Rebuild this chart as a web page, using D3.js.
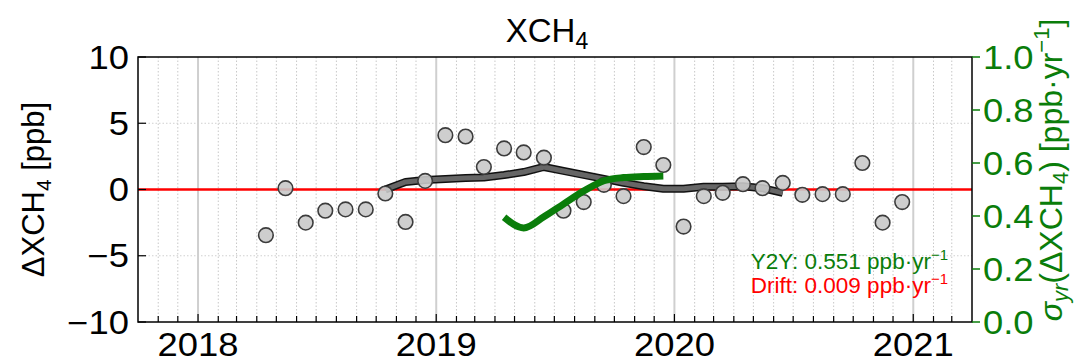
<!DOCTYPE html>
<html>
<head>
<meta charset="utf-8">
<script src="https://cdn.jsdelivr.net/npm/d3@7/dist/d3.min.js"></script>
<style>
  html, body { margin: 0; padding: 0; background: #fff; }
  svg { display: block; font-family: "Liberation Sans", Arial, Helvetica, sans-serif; }
</style>
</head>
<body>
<svg id="chart" width="1077" height="362"></svg>
<script>
// ---- data ----
const pointMonths = ["2018-04","2018-05","2018-06","2018-07","2018-08","2018-09","2018-10","2018-11","2018-12",
  "2019-01","2019-02","2019-03","2019-04","2019-05","2019-06","2019-07","2019-08","2019-09","2019-10","2019-11","2019-12",
  "2020-01","2020-02","2020-03","2020-04","2020-05","2020-06","2020-07","2020-08","2020-09","2020-10","2020-11","2020-12"];
const pointValues = [-3.45, 0.1, -2.5, -1.6, -1.5, -1.5, -0.3, -2.45, 0.65,
  4.1, 4.0, 1.7, 3.1, 2.8, 2.4, -1.6, -0.95, 0.35, -0.5, 3.2, 1.85,
  -2.8, -0.5, -0.25, 0.4, 0.1, 0.5, -0.4, -0.35, -0.35, 2.0, -2.5, -0.95];

const runMonths = ["2018-10","2018-11","2018-12","2019-01","2019-02","2019-03","2019-04","2019-05","2019-06","2019-07",
  "2019-08","2019-09","2019-10","2019-11","2019-12","2020-01","2020-02","2020-03","2020-04","2020-05","2020-06"];
const runValues = [0.0, 0.57, 0.72, 0.79, 0.86, 0.9, 1.09, 1.32, 1.7, 1.4,
  1.1, 0.8, 0.5, 0.25, 0.05, 0.05, 0.2, 0.2, 0.25, 0.1, -0.25];

const sigmaMonths = ["2019-04","2019-05","2019-06","2019-07","2019-08","2019-09","2019-10","2019-11","2019-12"];
const sigmaValues = [0.395, 0.355, 0.397, 0.445, 0.494, 0.533, 0.545, 0.549, 0.551];

const leftTicks = [-10, -5, 0, 5, 10];
const rightTicks = [0.0, 0.2, 0.4, 0.6, 0.8, 1.0];
const yearTicks = ["2018", "2019", "2020", "2021"];
const xDomain = ["2017-10-01", "2021-04-01"];
const y2yText = "0.551";
const driftText = "0.009";

// ---- layout ----
const W = 1077, H = 362;
const L = 138, R = 972, T = 57, B = 322;
const GREEN = "#0a7d0a";
const FS = 32.5;
const SX = 1.12; // horizontal stretch of tick label glyphs

const parseM = d3.timeParse("%Y-%m");
const mid = s => d3.timeDay.offset(parseM(s), 14);
const parseD = d3.timeParse("%Y-%m-%d");

const x = d3.scaleTime().domain(xDomain.map(parseD)).range([L, R]);
const y = d3.scaleLinear().domain([-10, 10]).range([B, T]);
const y2 = d3.scaleLinear().domain([0, 1]).range([B, T]);

const svg = d3.select("#chart");
svg.append("rect").attr("width", W).attr("height", H).attr("fill", "#fff");

const g = svg.append("g");
const months = d3.timeMonth.range(x.domain()[0], x.domain()[1]);
const years = yearTicks.map(s => d3.timeParse("%Y")(s));

// minor monthly dotted gridlines
g.append("g").selectAll("line").data(months.filter(d => d.getMonth() !== 0 && +d !== +x.domain()[0]))
  .join("line")
  .attr("x1", d => x(d)).attr("x2", d => x(d)).attr("y1", T).attr("y2", B)
  .attr("stroke", "#c8c8c8").attr("stroke-width", 1).attr("stroke-dasharray", "1.5,2");
// horizontal dotted gridlines
g.append("g").selectAll("line").data(leftTicks.filter(v => v !== 10 && v !== -10))
  .join("line")
  .attr("x1", L).attr("x2", R).attr("y1", d => y(d)).attr("y2", d => y(d))
  .attr("stroke", "#d0d0d0").attr("stroke-width", 1).attr("stroke-dasharray", "1.5,2");
// yearly solid gridlines
g.append("g").selectAll("line").data(years)
  .join("line")
  .attr("x1", d => x(d)).attr("x2", d => x(d)).attr("y1", T).attr("y2", B)
  .attr("stroke", "#cfcfcf").attr("stroke-width", 2);

// zero line
g.append("line").attr("x1", L).attr("x2", R).attr("y1", y(0)).attr("y2", y(0))
  .attr("stroke", "#ff0000").attr("stroke-width", 2.5);

// running line
const runData = runMonths.map((m, i) => ({ d: mid(m), v: runValues[i] }));
const runLine = d3.line().x(d => x(d.d)).y(d => y(d.v));
g.append("path").datum(runData).attr("d", runLine).attr("fill", "none")
  .attr("stroke", "#111").attr("stroke-width", 8).attr("stroke-linejoin", "round");
g.append("path").datum(runData).attr("d", runLine).attr("fill", "none")
  .attr("stroke", "#666").attr("stroke-width", 5).attr("stroke-linejoin", "round");

// points
const ptData = pointMonths.map((m, i) => ({ d: mid(m), v: pointValues[i] }));
g.append("g").selectAll("circle").data(ptData).join("circle")
  .attr("cx", d => x(d.d)).attr("cy", d => y(d.v)).attr("r", 7.3)
  .attr("fill", "#c9c9c9").attr("fill-opacity", 0.9)
  .attr("stroke", "#3c3c3c").attr("stroke-width", 1.6);

// sigma line
const sigData = sigmaMonths.map((m, i) => ({ d: mid(m), v: sigmaValues[i] }));
g.append("path").datum(sigData)
  .attr("d", d3.line().x(d => x(d.d)).y(d => y2(d.v)).curve(d3.curveMonotoneX))
  .attr("fill", "none").attr("stroke", GREEN).attr("stroke-width", 7).attr("stroke-linejoin", "round");

// frame
svg.append("rect").attr("x", L).attr("y", T).attr("width", R - L).attr("height", B - T)
  .attr("fill", "none").attr("stroke", "#000").attr("stroke-width", 1.5);

// x ticks (inward)
svg.append("g").selectAll("line").data(months.filter(d => +d !== +x.domain()[0]))
  .join("line")
  .attr("x1", d => x(d)).attr("x2", d => x(d)).attr("y1", B).attr("y2", d => B - (d.getMonth() === 0 ? 8 : 6))
  .attr("stroke", "#000").attr("stroke-width", 1.2);
svg.append("g").selectAll("text").data(years).join("text")
  .attr("transform", d => `translate(${x(d)},356) scale(${SX},1)`).attr("text-anchor", "middle")
  .attr("font-size", FS).attr("fill", "#000").text(d => d3.timeFormat("%Y")(d));

// left ticks
svg.append("g").selectAll("line").data(leftTicks).join("line")
  .attr("x1", L).attr("x2", L + 8).attr("y1", d => y(d)).attr("y2", d => y(d))
  .attr("stroke", "#000").attr("stroke-width", 1.2);
svg.append("g").selectAll("text").data(leftTicks).join("text")
  .attr("transform", d => `translate(129,${y(d) + 11.5}) scale(${SX},1)`).attr("text-anchor", "end")
  .attr("font-size", FS).attr("fill", "#000")
  .text(d => d < 0 ? "\u2212" + Math.abs(d) : String(d));

// right ticks
svg.append("g").selectAll("line").data(rightTicks).join("line")
  .attr("x1", R).attr("x2", R + 8).attr("y1", d => y2(d)).attr("y2", d => y2(d))
  .attr("stroke", GREEN).attr("stroke-width", 1.5);
svg.append("g").selectAll("text").data(rightTicks).join("text")
  .attr("transform", d => `translate(983,${y2(d) + 11.5}) scale(${SX},1)`).attr("text-anchor", "start")
  .attr("font-size", FS).attr("fill", GREEN).text(d => d.toFixed(1));

// title
const title = svg.append("text").attr("x", 547).attr("y", 42).attr("text-anchor", "middle")
  .attr("font-size", 33).attr("fill", "#000");
title.append("tspan").text("XCH");
title.append("tspan").attr("font-size", 23).attr("dy", 7).text("4");

// left label
const ll = svg.append("text").attr("transform", `translate(44,${(T + B) / 2}) rotate(-90)`)
  .attr("text-anchor", "middle").attr("font-size", 31).attr("fill", "#000");
ll.append("tspan").text("\u0394XCH");
ll.append("tspan").attr("font-size", 21).attr("dy", 7).text("4");
ll.append("tspan").attr("dy", -7).text(" [ppb]");

// right label
const rl = svg.append("text").attr("transform", `translate(1062,170) rotate(-90)`)
  .attr("text-anchor", "middle").attr("font-size", 32).attr("fill", GREEN);
rl.append("tspan").attr("font-style", "italic").text("\u03c3");
rl.append("tspan").attr("font-style", "italic").attr("font-size", 22).attr("dy", 6).text("yr");
rl.append("tspan").attr("dy", -6).text("(\u0394XCH");
rl.append("tspan").attr("font-size", 22).attr("dy", 6).text("4");
rl.append("tspan").attr("dy", -6).text(") [ppb\u00b7yr");
rl.append("tspan").attr("font-size", 22).attr("dy", -13).text("\u22121");
rl.append("tspan").attr("dy", 13).text("]");

// annotations
const a1 = svg.append("text").attr("x", 948).attr("y", 269).attr("text-anchor", "end")
  .attr("font-size", 22.5).attr("fill", GREEN);
a1.append("tspan").text("Y2Y: " + y2yText + " ppb\u00b7yr");
a1.append("tspan").attr("font-size", 15).attr("dy", -9).text("\u22121");
const a2 = svg.append("text").attr("x", 948).attr("y", 293).attr("text-anchor", "end")
  .attr("font-size", 22.5).attr("fill", "#ff0000");
a2.append("tspan").text("Drift: " + driftText + " ppb\u00b7yr");
a2.append("tspan").attr("font-size", 15).attr("dy", -9).text("\u22121");
</script>
</body>
</html>
